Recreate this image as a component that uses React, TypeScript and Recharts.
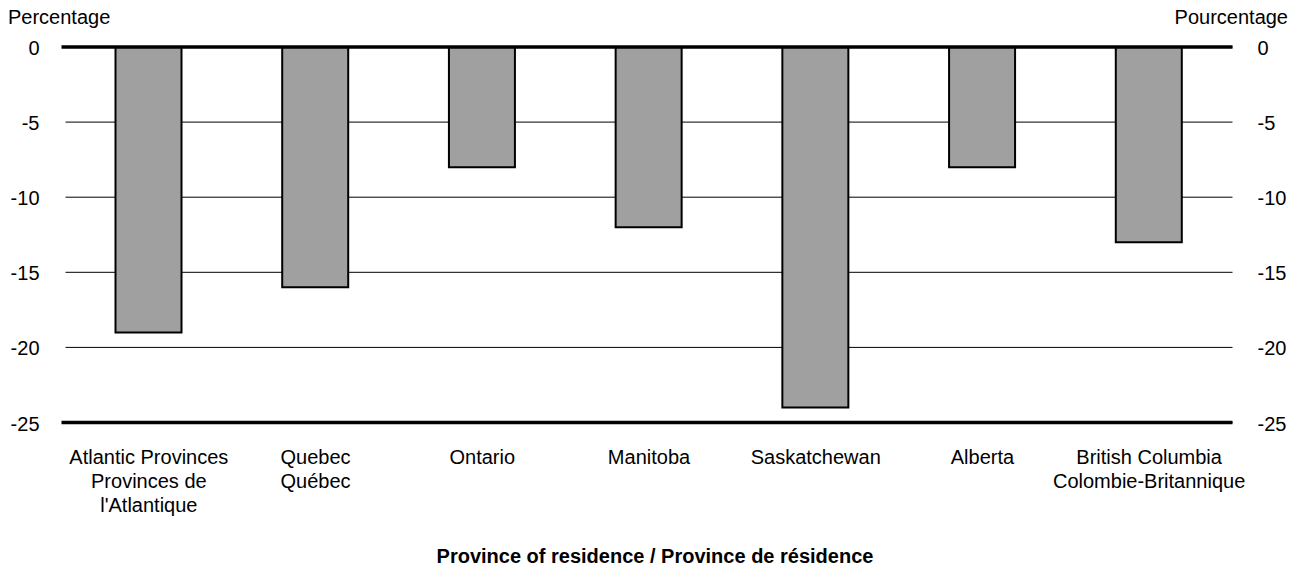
import React from "react";
import {
  ComposedChart,
  Bar,
  Line,
  XAxis,
  YAxis,
  CartesianGrid,
  ReferenceLine,
} from "recharts";

const categories: string[][] = [
  ["Atlantic Provinces", "Provinces de", "l'Atlantique"],
  ["Quebec", "Québec"],
  ["Ontario"],
  ["Manitoba"],
  ["Saskatchewan"],
  ["Alberta"],
  ["British Columbia", "Colombie-Britannique"],
];
const values: number[] = [-19, -16, -8, -12, -24, -8, -13];
const yTicks: number[] = [0, -5, -10, -15, -20, -25];
const leftTitle = "Percentage";
const rightTitle = "Pourcentage";
const xTitle = "Province of residence / Province de résidence";

const data = categories.map((c, i) => ({ key: c.join("|"), value: values[i] }));

const FONT = "'Liberation Sans', Arial, sans-serif";

const XTick = (props: any) => {
  const { x, y, payload } = props;
  const lines: string[] = String(payload.value).split("|");
  return (
    <text
      x={x}
      y={y}
      textAnchor="middle"
      fontFamily={FONT}
      fontSize={20}
      fill="#000"
    >
      {lines.map((l, i) => (
        <tspan key={i} x={x} dy={i === 0 ? 41 : 24}>
          {l}
        </tspan>
      ))}
    </text>
  );
};

const YTickLeft = (props: any) => {
  const { x, y, payload } = props;
  return (
    <text x={x} y={y + 8} textAnchor="end" fontFamily={FONT} fontSize={20} fill="#000">
      {payload.value}
    </text>
  );
};
const YTickRight = (props: any) => {
  const { x, y, payload } = props;
  return (
    <text x={x} y={y + 8} textAnchor="start" fontFamily={FONT} fontSize={20} fill="#000">
      {payload.value}
    </text>
  );
};

const ThickLine = (props: any) => {
  const { x1, y1, x2, y2 } = props;
  return <line x1={x1 - 4} y1={y1} x2={x2} y2={y2} stroke="#000" strokeWidth={3.5} />;
};

export default function App() {
  return (
    <div
      style={{
        position: "absolute",
        left: 0,
        top: 0,
        width: 1301,
        height: 569,
        background: "#fff",
        fontFamily: FONT,
      }}
    >
      <div style={{ position: "absolute", left: 8, top: 5, fontSize: 20, lineHeight: "24px" }}>
        {leftTitle}
      </div>
      <div style={{ position: "absolute", right: 13, top: 5, fontSize: 20, lineHeight: "24px" }}>
        {rightTitle}
      </div>
      <ComposedChart
        width={1301}
        height={569}
        data={data}
        margin={{ top: 47, right: 0, bottom: 0, left: 0 }}
        barCategoryGap={0}
      >
        <CartesianGrid yAxisId="left" horizontal vertical={false} stroke="#000" strokeWidth={1} />
        <XAxis
          dataKey="key"
          interval={0}
          axisLine={false}
          tickLine={false}
          tickSize={0}
          tickMargin={0}
          height={146.5}
          tick={<XTick />}
        />
        <YAxis
          yAxisId="left"
          orientation="left"
          width={65.5}
          domain={[-25, 0]}
          ticks={yTicks}
          axisLine={false}
          tickLine={false}
          tickSize={0}
          tickMargin={26}
          tick={<YTickLeft />}
        />
        <YAxis
          yAxisId="right"
          orientation="right"
          width={68.5}
          domain={[-25, 0]}
          ticks={yTicks}
          axisLine={false}
          tickLine={false}
          tickSize={0}
          tickMargin={25}
          tick={<YTickRight />}
        />
        <Bar
          yAxisId="left"
          dataKey="value"
          fill="#a0a0a0"
          stroke="#000"
          strokeWidth={2}
          barSize={66}
          isAnimationActive={false}
        />
        <Line
          yAxisId="right"
          dataKey="value"
          stroke="none"
          dot={false}
          activeDot={false}
          legendType="none"
          isAnimationActive={false}
        />
        <ReferenceLine yAxisId="left" y={0} shape={<ThickLine />} />
        <ReferenceLine yAxisId="left" y={-25} shape={<ThickLine />} />
      </ComposedChart>
      <div
        style={{
          position: "absolute",
          left: 0,
          width: 1310,
          top: 544,
          textAlign: "center",
          fontSize: 20,
          fontWeight: "bold",
          lineHeight: "24px",
        }}
      >
        {xTitle}
      </div>
    </div>
  );
}
